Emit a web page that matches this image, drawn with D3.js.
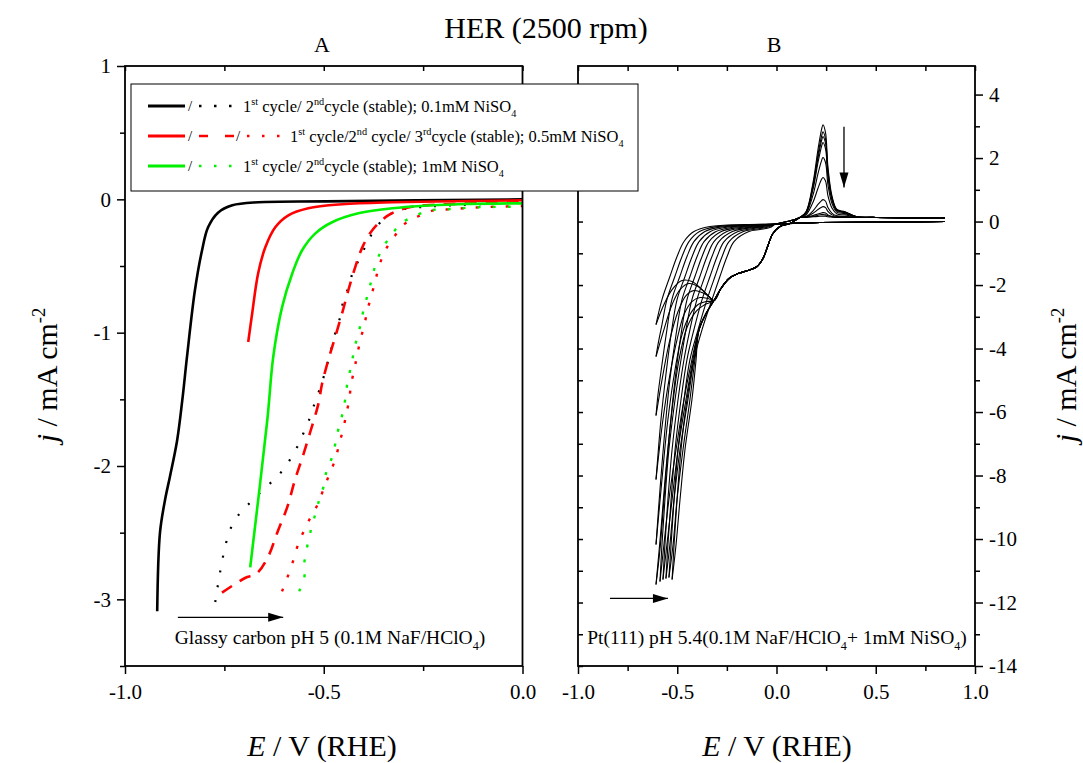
<!DOCTYPE html>
<html>
<head>
<meta charset="utf-8">
<script src="https://cdn.jsdelivr.net/npm/d3@7"></script>
<style>
  body { margin: 0; background: #fff; }
  text { font-family: "Liberation Serif", "Times New Roman", serif; fill: #000; white-space: pre; }
</style>
</head>
<body>
<svg id="chart" width="1083" height="763"></svg>
<script>
// ---------- panel A: glassy carbon, [E / V, j / mA cm-2] ----------
const blackCycle1 = [[-0.919,-3.09],[-0.912,-2.50],[-0.899,-2.25],[-0.887,-2.08],[-0.869,-1.81],[-0.856,-1.51],[-0.844,-1.18],[-0.824,-0.68],[-0.806,-0.38],[-0.791,-0.21],[-0.766,-0.10],[-0.730,-0.045],[-0.665,-0.022],[-0.496,-0.015],[0,0]];
const blackCycle2 = [[-0.773,-3.02],[-0.761,-2.80],[-0.746,-2.58],[-0.733,-2.46],[-0.710,-2.35],[-0.680,-2.26],[-0.650,-2.17],[-0.617,-2.08],[-0.592,-1.985],[-0.569,-1.87],[-0.552,-1.76],[-0.537,-1.655],[-0.524,-1.54],[-0.511,-1.43],[-0.499,-1.32],[-0.489,-1.21],[-0.479,-1.10],[-0.469,-0.98],[-0.458,-0.876],[-0.451,-0.764],[-0.438,-0.66],[-0.426,-0.54],[-0.408,-0.434],[-0.390,-0.322],[-0.370,-0.217],[-0.338,-0.12],[-0.302,-0.075],[-0.262,-0.06],[-0.224,-0.052],[0,-0.022]];
const redCycle1 = [[-0.690,-1.07],[-0.680,-0.854],[-0.665,-0.554],[-0.647,-0.36],[-0.622,-0.21],[-0.589,-0.12],[-0.539,-0.067],[-0.453,-0.037],[-0.327,-0.022],[0,-0.007]];
const redCycle2 = [[-0.756,-2.95],[-0.698,-2.84],[-0.670,-2.81],[-0.640,-2.68],[-0.617,-2.50],[-0.592,-2.31],[-0.572,-2.10],[-0.552,-1.92],[-0.534,-1.745],[-0.514,-1.54],[-0.504,-1.38],[-0.489,-1.21],[-0.471,-1.03],[-0.453,-0.846],[-0.438,-0.68],[-0.421,-0.51],[-0.403,-0.36],[-0.378,-0.232],[-0.338,-0.12],[-0.295,-0.067],[-0.244,-0.045],[0,-0.022]];
const redCycle3 = [[-0.605,-2.94],[-0.592,-2.84],[-0.579,-2.73],[-0.567,-2.61],[-0.552,-2.50],[-0.534,-2.39],[-0.514,-2.28],[-0.499,-2.16],[-0.484,-2.05],[-0.471,-1.95],[-0.461,-1.835],[-0.451,-1.72],[-0.443,-1.61],[-0.436,-1.50],[-0.431,-1.386],[-0.423,-1.273],[-0.416,-1.17],[-0.408,-1.056],[-0.398,-0.944],[-0.390,-0.83],[-0.380,-0.72],[-0.370,-0.607],[-0.360,-0.494],[-0.345,-0.382],[-0.322,-0.277],[-0.295,-0.18],[-0.257,-0.12],[-0.222,-0.082],[-0.184,-0.075],[-0.108,-0.06],[0,-0.05]];
const greenCycle1 = [[-0.685,-2.76],[-0.642,-1.655],[-0.627,-1.18],[-0.605,-0.81],[-0.579,-0.554],[-0.554,-0.38],[-0.521,-0.255],[-0.479,-0.172],[-0.413,-0.105],[-0.327,-0.067],[-0.161,-0.037],[0,-0.03]];
const greenCycle2 = [[-0.562,-2.94],[-0.549,-2.84],[-0.549,-2.73],[-0.542,-2.61],[-0.534,-2.50],[-0.524,-2.39],[-0.514,-2.28],[-0.501,-2.16],[-0.494,-2.05],[-0.481,-1.95],[-0.471,-1.835],[-0.463,-1.72],[-0.453,-1.61],[-0.446,-1.50],[-0.441,-1.386],[-0.433,-1.273],[-0.426,-1.17],[-0.418,-1.056],[-0.408,-0.944],[-0.400,-0.83],[-0.390,-0.72],[-0.380,-0.607],[-0.370,-0.494],[-0.355,-0.382],[-0.332,-0.277],[-0.305,-0.18],[-0.267,-0.12],[-0.232,-0.082],[-0.194,-0.075],[-0.118,-0.06],[0,-0.055]];

// ---------- panel B: Pt(111) cycling, [E / V, j / mA cm-2] ----------
// negative-going flat part from the upper limit
const rightFlatNeg = [[0.849,0],[0.521,-0.016],[0.219,-0.03],[0.118,-0.05]];
// Ni deposition wave and shoulder, shared by all cycles
const waveShoulder = [[0.068,-0.063],[0.018,-0.157],[-0.018,-0.378],[-0.043,-0.756],[-0.068,-1.165],[-0.098,-1.417],[-0.144,-1.543],[-0.194,-1.638],[-0.239,-1.795],[-0.280,-2.11],[-0.315,-2.488]];
const waveLower = [[-0.355,-2.90],[-0.390,-3.40]];
// spread of curves that come back up to the small plateau, one per cycle
const familyCurves = [
  [[-0.577,-2.457],[-0.537,-1.732],[-0.501,-1.102],[-0.466,-0.630],[-0.416,-0.315],[-0.335,-0.157],[-0.159,-0.094],[-0.003,-0.079]],
  [[-0.552,-2.457],[-0.512,-1.732],[-0.476,-1.102],[-0.441,-0.630],[-0.388,-0.315],[-0.310,-0.167],[-0.146,-0.104],[-0.003,-0.079]],
  [[-0.527,-2.457],[-0.487,-1.732],[-0.451,-1.102],[-0.416,-0.630],[-0.361,-0.315],[-0.285,-0.176],[-0.134,-0.113],[-0.003,-0.079]],
  [[-0.501,-2.457],[-0.461,-1.732],[-0.425,-1.102],[-0.390,-0.630],[-0.333,-0.315],[-0.259,-0.186],[-0.121,-0.123],[-0.003,-0.079]],
  [[-0.476,-2.457],[-0.436,-1.732],[-0.400,-1.102],[-0.365,-0.630],[-0.305,-0.315],[-0.234,-0.195],[-0.109,-0.132],[-0.003,-0.079]],
  [[-0.451,-2.457],[-0.411,-1.732],[-0.375,-1.102],[-0.340,-0.630],[-0.278,-0.315],[-0.209,-0.205],[-0.096,-0.142],[-0.003,-0.079]],
  [[-0.426,-2.457],[-0.386,-1.732],[-0.350,-1.102],[-0.315,-0.630],[-0.250,-0.315],[-0.184,-0.214],[-0.083,-0.151],[-0.003,-0.079]],
  [[-0.401,-2.457],[-0.361,-1.732],[-0.325,-1.102],[-0.290,-0.630],[-0.222,-0.315],[-0.159,-0.224],[-0.071,-0.161],[-0.003,-0.079]],
  [[-0.375,-2.457],[-0.335,-1.732],[-0.299,-1.102],[-0.264,-0.630],[-0.194,-0.315],[-0.133,-0.233],[-0.058,-0.170],[-0.003,-0.079]],
  [[-0.350,-2.457],[-0.310,-1.732],[-0.274,-1.102],[-0.239,-0.630],[-0.167,-0.315],[-0.108,-0.243],[-0.046,-0.180],[-0.003,-0.079]],
  [[-0.325,-2.457],[-0.285,-1.732],[-0.249,-1.102],[-0.214,-0.630],[-0.139,-0.315],[-0.083,-0.252],[-0.033,-0.189],[-0.003,-0.079]]
];
// early cycles: drop to the lower limit at -0.6 V
const endpointDrops = [
  [[-0.607,-3.244]],
  [[-0.577,-3.244],[-0.597,-3.874],[-0.607,-4.252]],
  [[-0.552,-3.402],[-0.577,-4.504],[-0.597,-5.449],[-0.607,-6.110]],
  [[-0.531,-3.559],[-0.557,-4.819],[-0.582,-6.236],[-0.597,-7.339],[-0.607,-8.126]],
  [[-0.506,-3.559],[-0.537,-4.976],[-0.562,-6.551],[-0.587,-8.441],[-0.607,-10.173]],
  [[-0.481,-3.559],[-0.511,-4.976],[-0.542,-6.866],[-0.567,-8.756],[-0.587,-10.331],[-0.607,-11.433]]
];
// early cycles: way back up, over the hump into the shoulder
const endpointHumps = [
  [[-0.607,-3.244],[-0.567,-2.614],[-0.526,-2.142],[-0.476,-1.858],[-0.426,-1.890],[-0.375,-2.142],[-0.335,-2.394]],
  [[-0.607,-4.252],[-0.567,-3.402],[-0.526,-2.614],[-0.486,-2.142],[-0.441,-1.953],[-0.395,-2.047],[-0.355,-2.268]],
  [[-0.607,-6.110],[-0.572,-4.819],[-0.537,-3.717],[-0.496,-2.835],[-0.456,-2.331],[-0.416,-2.173],[-0.375,-2.236],[-0.340,-2.362]],
  [[-0.607,-8.126],[-0.572,-6.236],[-0.537,-4.819],[-0.501,-3.717],[-0.466,-2.929],[-0.426,-2.520],[-0.385,-2.394],[-0.345,-2.425]],
  [[-0.607,-10.173],[-0.577,-8.126],[-0.547,-6.236],[-0.511,-4.661],[-0.476,-3.559],[-0.436,-2.929],[-0.395,-2.614],[-0.355,-2.520]],
  [[-0.607,-11.433],[-0.582,-9.701],[-0.557,-7.811],[-0.526,-5.921],[-0.491,-4.346],[-0.451,-3.339],[-0.406,-2.835],[-0.360,-2.614]]
];
// later cycles: steep HER branch down to the bottom turning point
const bottomDrops = [
  [[-0.426,-4.346],[-0.466,-5.606],[-0.506,-7.181],[-0.542,-8.756],[-0.567,-10.173],[-0.587,-11.339]],
  [[-0.421,-4.346],[-0.456,-5.606],[-0.496,-7.181],[-0.526,-8.756],[-0.552,-10.173],[-0.572,-11.276]],
  [[-0.416,-4.346],[-0.446,-5.606],[-0.486,-7.181],[-0.516,-8.756],[-0.537,-10.173],[-0.557,-11.244]],
  [[-0.411,-4.346],[-0.436,-5.606],[-0.471,-7.181],[-0.501,-8.756],[-0.521,-10.173],[-0.542,-11.213]],
  [[-0.406,-4.409],[-0.426,-5.606],[-0.461,-7.181],[-0.486,-8.756],[-0.506,-10.173],[-0.526,-11.276]]
];
const bottomRises = [
  [[-0.587,-11.339],[-0.577,-10.173],[-0.562,-8.756],[-0.542,-7.181],[-0.511,-5.606],[-0.481,-4.346],[-0.456,-3.402]],
  [[-0.572,-11.276],[-0.562,-10.173],[-0.547,-8.756],[-0.526,-7.181],[-0.496,-5.606],[-0.466,-4.346],[-0.436,-3.402]],
  [[-0.557,-11.244],[-0.547,-10.173],[-0.531,-8.756],[-0.511,-7.181],[-0.481,-5.606],[-0.451,-4.346],[-0.416,-3.402]],
  [[-0.542,-11.213],[-0.531,-10.173],[-0.516,-8.756],[-0.496,-7.181],[-0.466,-5.606],[-0.436,-4.346],[-0.395,-3.402]],
  [[-0.526,-11.276],[-0.516,-10.173],[-0.501,-8.756],[-0.481,-7.181],[-0.451,-5.606],[-0.416,-4.346],[-0.375,-3.402]]
];
const preRiseFamily = [[0.043,-0.016],[0.093,0.063]];
const preRiseWave = [[0.093,0.031]];
// Ni stripping peak, shrinking cycle by cycle
const peakE = [0.118,0.149,0.184,0.209,0.227,0.234,0.247,0.259,0.280,0.305,0.345,0.401,0.501,0.849];
const peakJ = [
  [0.13,0.31,1.23,2.27,2.90,3.05,2.80,1.73,0.79,0.38,0.31,0.16,0.13,0.11],
  [0.13,0.30,1.15,2.11,2.69,2.83,2.60,1.61,0.74,0.36,0.30,0.16,0.13,0.11],
  [0.13,0.29,1.09,2.00,2.55,2.68,2.46,1.53,0.71,0.35,0.29,0.16,0.13,0.11],
  [0.13,0.28,1.02,1.86,2.37,2.49,2.29,1.42,0.66,0.33,0.28,0.15,0.13,0.11],
  [0.13,0.25,0.84,1.51,1.92,2.02,1.86,1.17,0.56,0.29,0.25,0.15,0.13,0.11],
  [0.13,0.21,0.61,1.05,1.33,1.39,1.28,0.82,0.42,0.24,0.21,0.14,0.13,0.11],
  [0.13,0.16,0.34,0.54,0.66,0.69,0.64,0.44,0.26,0.18,0.16,0.14,0.13,0.11],
  [0.13,0.15,0.26,0.38,0.45,0.47,0.44,0.32,0.21,0.16,0.15,0.13,0.13,0.11],
  [0.13,0.14,0.19,0.24,0.27,0.28,0.27,0.21,0.16,0.14,0.14,0.13,0.13,0.11],
  [0.13,0.14,0.16,0.20,0.22,0.22,0.21,0.18,0.15,0.14,0.14,0.13,0.13,0.11],
  [0.13,0.13,0.15,0.16,0.17,0.17,0.17,0.15,0.14,0.13,0.13,0.13,0.13,0.11]
];

// ticks
const ticksAy = [-3, -2, -1, 0, 1];
const minorAy = [-3.5, -2.5, -1.5, -0.5, 0.5];
const ticksAx = [-1, -0.5, 0];
const minorAx = [-0.75, -0.25];
const ticksBy = [-14, -12, -10, -8, -6, -4, -2, 0, 2, 4];
const minorBy = [-13, -11, -9, -7, -5, -3, -1, 1, 3];
const ticksBx = [-1, -0.5, 0, 0.5, 1];
const minorBx = [-0.75, -0.25, 0.25, 0.75];

const svg = d3.select("#chart");
const plotTop = 66, plotBottom = 666;

const xA = d3.scaleLinear().domain([-1, 0]).range([125, 522.5]);
const yA = d3.scaleLinear().domain([-3.5, 1]).range([plotBottom, plotTop]);
const xB = d3.scaleLinear().domain([-1, 1]).range([578, 975]);
const yB = d3.scaleLinear().domain([-14, 4.9]).range([plotBottom, plotTop]);

const fmt1 = d => d.toFixed(1);
const fmtInt = d => String(d);

function axisStyle(g, size) {
  g.select(".domain").remove();
  g.attr("font-family", null);
  g.selectAll(".tick line").attr("stroke", "#000").attr("stroke-width", 1.5);
  g.selectAll(".tick text").attr("font-size", size).attr("fill", "#000");
}

function drawAxes(x, y, yMajor, yMinor, xMajor, xMinor, yRight) {
  const x0 = x.range()[0], x1 = x.range()[1];
  // bottom, ticks out
  svg.append("g").attr("transform", `translate(0,${plotBottom})`)
    .call(d3.axisBottom(x).tickValues(xMajor).tickFormat(fmt1).tickSize(8).tickPadding(10))
    .call(g => axisStyle(g, 21));
  svg.append("g").attr("transform", `translate(0,${plotBottom})`)
    .call(d3.axisBottom(x).tickValues(xMinor).tickFormat("").tickSize(5))
    .call(g => axisStyle(g, 21));
  // top, ticks in
  svg.append("g").attr("transform", `translate(0,${plotTop})`)
    .call(d3.axisTop(x).tickValues(xMajor.concat(xMinor)).tickFormat("").tickSize(-5))
    .call(g => axisStyle(g, 21));
  const outX = yRight ? x1 : x0, inX = yRight ? x0 : x1;
  const outAxis = yRight ? d3.axisRight : d3.axisLeft;
  const inAxis = yRight ? d3.axisLeft : d3.axisRight;
  svg.append("g").attr("transform", `translate(${outX},0)`)
    .call(outAxis(y).tickValues(yMajor).tickFormat(fmtInt).tickSize(8).tickPadding(6))
    .call(g => axisStyle(g, 21));
  svg.append("g").attr("transform", `translate(${outX},0)`)
    .call(outAxis(y).tickValues(yMinor).tickFormat("").tickSize(5))
    .call(g => axisStyle(g, 21));
  if (yRight) {
    svg.append("g").attr("transform", `translate(${inX},0)`)
      .call(inAxis(y).tickValues(yMajor.concat(yMinor)).tickFormat("").tickSize(-5))
      .call(g => axisStyle(g, 21));
  }
  svg.append("rect").attr("x", x0).attr("y", plotTop).attr("width", x1 - x0).attr("height", plotBottom - plotTop)
    .attr("fill", "none").attr("stroke", "#000").attr("stroke-width", 1.8);
}

const lineA = d3.line().x(d => xA(d[0])).y(d => yA(d[1])).curve(d3.curveCatmullRom.alpha(0.5));
const lineB = d3.line().x(d => xB(d[0])).y(d => yB(d[1])).curve(d3.curveCatmullRom.alpha(0.5));

// ---- panel A curves
const green = "#00f000";
const seriesA = [
  { pts: blackCycle2, color: "#000", w: 2.2, dash: "2,13" },
  { pts: redCycle3, color: "#ff0000", w: 2.4, dash: "3,12" },
  { pts: greenCycle2, color: green, w: 2.4, dash: "3,12" },
  { pts: redCycle2, color: "#ff0000", w: 2.6, dash: "12,9" },
  { pts: blackCycle1, color: "#000", w: 2.6, dash: null },
  { pts: redCycle1, color: "#ff0000", w: 2.6, dash: null },
  { pts: greenCycle1, color: green, w: 2.6, dash: null }
];
seriesA.forEach(s => {
  svg.append("path").attr("d", lineA(s.pts)).attr("fill", "none")
    .attr("stroke", s.color).attr("stroke-width", s.w)
    .attr("stroke-dasharray", s.dash);
});

// ---- panel B cycles
const cyclePaths = [];
familyCurves.forEach((fam, c) => {
  const peak = peakE.map((e, i) => [e, peakJ[c][i]]);
  if (c < endpointDrops.length) {
    cyclePaths.push(rightFlatNeg.concat(fam.slice().reverse(), endpointDrops[c]));
    cyclePaths.push(endpointHumps[c].concat(waveShoulder.slice().reverse(), preRiseWave, peak));
  } else {
    const k = c - endpointDrops.length;
    cyclePaths.push(rightFlatNeg.concat(waveShoulder, waveLower, bottomDrops[k]));
    cyclePaths.push(bottomRises[k].concat(fam, preRiseFamily, peak));
  }
});
svg.append("g").selectAll("path").data(cyclePaths).join("path")
  .attr("d", lineB).attr("fill", "none").attr("stroke", "#000").attr("stroke-width", 1.1);

drawAxes(xA, yA, ticksAy, minorAy, ticksAx, minorAx, false);
drawAxes(xB, yB, ticksBy, minorBy, ticksBx, minorBx, true);

// ---- text helpers
function rich(x, y, size, parts, anchor, rotate) {
  const t = svg.append("text").attr("x", x).attr("y", y).attr("font-size", size)
    .attr("text-anchor", anchor || "start");
  if (rotate) t.attr("transform", `rotate(${rotate},${x},${y})`);
  let shift = 0;
  parts.forEach(([str, kind]) => {
    const target = kind === "sup" ? -0.4 * size : kind === "sub" ? 0.3 * size : 0;
    const ts = t.append("tspan").text(str).attr("dy", target - shift);
    if (kind === "sup" || kind === "sub") ts.attr("font-size", size * 0.62);
    if (kind === "it") ts.attr("font-style", "italic");
    shift = target;
  });
  return t;
}

function arrow(x1, y1, x2, y2) {
  svg.append("line").attr("x1", x1).attr("y1", y1).attr("x2", x2).attr("y2", y2)
    .attr("stroke", "#000").attr("stroke-width", 1.3);
  const a = Math.atan2(y2 - y1, x2 - x1), L = 15, H = 4.5;
  const p = [[x2, y2],
    [x2 - L * Math.cos(a) + H * Math.sin(a), y2 - L * Math.sin(a) - H * Math.cos(a)],
    [x2 - L * Math.cos(a) - H * Math.sin(a), y2 - L * Math.sin(a) + H * Math.cos(a)]];
  svg.append("path").attr("d", "M" + p.join("L") + "Z").attr("fill", "#000");
}

// titles
svg.append("text").attr("x", 546).attr("y", 38).attr("font-size", 30).attr("text-anchor", "middle").text("HER (2500 rpm)");
svg.append("text").attr("x", 322).attr("y", 52).attr("font-size", 22).attr("text-anchor", "middle").text("A");
svg.append("text").attr("x", 774).attr("y", 52).attr("font-size", 22).attr("text-anchor", "middle").text("B");

rich(322, 756, 30, [["E", "it"], [" / V (RHE)", ""]], "middle");
rich(777, 756, 30, [["E", "it"], [" / V (RHE)", ""]], "middle");
rich(57, 375, 30, [["j", "it"], [" / mA cm", ""], ["-2", "sup"]], "middle", -90);
rich(1076, 375, 30, [["j", "it"], [" / mA cm", ""], ["-2", "sup"]], "middle", -90);

// annotations
arrow(xA(-0.867), yA(-3.135), xA(-0.602), yA(-3.135));
rich(330, 644, 19.5, [["Glassy carbon pH 5 (0.1M NaF/HClO", ""], ["4", "sub"], [")", ""]], "middle");
arrow(xB(-0.839), yB(-11.87), xB(-0.547), yB(-11.87));
rich(777, 644, 19.5, [["Pt(111) pH 5.4(0.1M NaF/HClO", ""], ["4", "sub"], ["+ 1mM NiSO", ""], ["4", "sub"], [")", ""]], "middle");
arrow(xB(0.340), yB(2.99), xB(0.340), yB(1.07));

// ---- legend
const lg = svg.append("g");
lg.append("rect").attr("x", 131).attr("y", 84).attr("width", 507).attr("height", 107)
  .attr("fill", "#fff").attr("stroke", "#000").attr("stroke-width", 1);
const rows = [
  { y: 106, color: "#000", marks: [["solid", 148, 185], ["slash", 190], ["dot", 199, 234]], tx: 243,
    text: [["1", ""], ["st", "sup"], [" cycle/ 2", ""], ["nd", "sup"], ["cycle (stable); 0.1mM NiSO", ""], ["4", "sub"]] },
  { y: 136, color: "#ff0000", marks: [["solid", 148, 185], ["slash", 190], ["dash", 199, 234], ["slash", 238], ["dot", 247, 282]], tx: 290,
    text: [["1", ""], ["st", "sup"], [" cycle/2", ""], ["nd", "sup"], [" cycle/ 3", ""], ["rd", "sup"], ["cycle (stable); 0.5mM NiSO", ""], ["4", "sub"]] },
  { y: 166, color: green, marks: [["solid", 148, 185], ["slash", 190], ["dot", 199, 234]], tx: 243,
    text: [["1", ""], ["st", "sup"], [" cycle/ 2", ""], ["nd", "sup"], ["cycle (stable); 1mM NiSO", ""], ["4", "sub"]] }
];
rows.forEach(r => {
  r.marks.forEach(m => {
    if (m[0] === "slash") {
      lg.append("text").attr("x", m[1]).attr("y", r.y + 5).attr("font-size", 15).attr("text-anchor", "middle").text("/");
      return;
    }
    const dash = m[0] === "dot" ? "2.5,12.5" : m[0] === "dash" ? "9,17" : null;
    lg.append("line").attr("x1", m[1]).attr("x2", m[2]).attr("y1", r.y).attr("y2", r.y)
      .attr("stroke", r.color).attr("stroke-width", m[0] === "solid" ? 3 : 2.5)
      .attr("stroke-dasharray", dash);
  });
  rich(r.tx, r.y + 6, 16.5, r.text, "start");
});
</script>
</body>
</html>
